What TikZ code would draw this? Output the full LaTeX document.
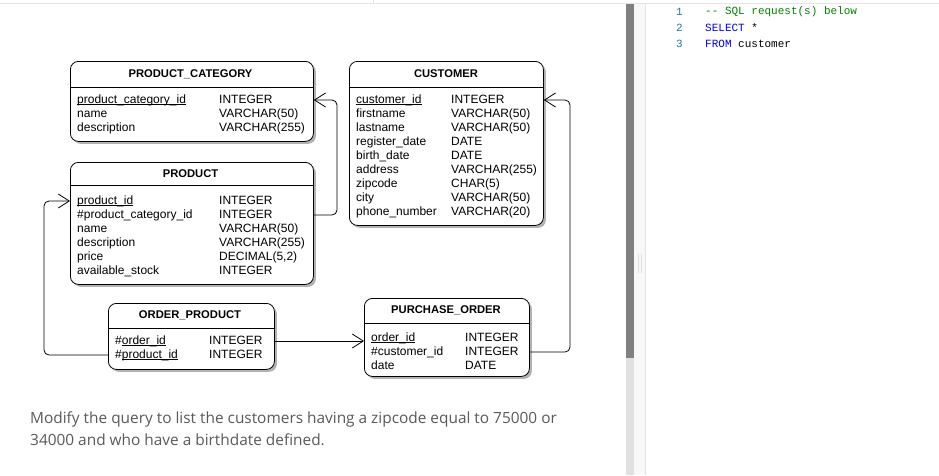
\documentclass[tikz,border=0pt]{standalone}
\usepackage{fontspec}
\setmainfont{Liberation Sans}
\newfontfamily\notefont{Open Sans}
\newfontfamily\codefont{Liberation Mono}
\usetikzlibrary{arrows.meta,shadows}

\definecolor{barDark}{HTML}{808080}
\definecolor{barLight}{HTML}{E0E0E0}
\definecolor{splitFill}{HTML}{F8F8F8}
\definecolor{rule}{HTML}{E4E4E4}
\definecolor{lineNo}{HTML}{237893}
\definecolor{cmt}{HTML}{008000}
\definecolor{kw}{HTML}{0000FF}
\definecolor{noteText}{HTML}{5A5A5A}

% primary key: line under the text, at the baseline
\newcommand\pkey[1]{\setbox0\hbox{#1}\rlap{\rule[-1.2pt]{\wd0}{0.6pt}}\box0}

\begin{document}
\begin{tikzpicture}[x=1pt, y=-1pt,
    tbl/.style={draw, line width=0.8pt, rounded corners=8pt, fill=white, anchor=north west,
      drop shadow={shadow xshift=2.5pt, shadow yshift=-2.5pt, fill=black, opacity=0.3}},
    ttl/.style={font=\fontsize{11.2}{13}\selectfont\bfseries, inner sep=0pt},
    fld/.style={font=\fontsize{12}{14}\selectfont, anchor=west, inner sep=0pt,
      text height=8.6pt, text depth=2.5pt},
    fk/.style={line width=0.8pt, rounded corners=5pt, -{Straight Barb[length=11pt,width=14pt]}},
    code/.style={font=\codefont\fontsize{11}{13}\selectfont, anchor=west, inner sep=0pt},
    note/.style={font=\notefont\fontsize{15.4}{20}\selectfont, text=noteText, anchor=base west, inner sep=0pt}
    ]
    \useasboundingbox[fill=white] (0,0) rectangle (939,475);

    % editor frame
    \draw[rule] (0,3.5) -- (939,3.5);
    \draw[rule] (373,0) -- (373,3.5);
    \fill[barDark] (626,4) rectangle (634,358);
    \fill[barLight] (626,358) rectangle (634,475);
    \fill[splitFill] (634,4) rectangle (645,475);
    \draw[rule] (645.5,4) -- (645.5,475);
    \draw[barLight] (638.5,254) -- (638.5,273) (641.5,254) -- (641.5,273);

    % SQL editor
    \foreach \i in {1,2,3}
      \node[code, anchor=east, text=lineNo] (n-\i) at (683,-4+16*\i) {\i};
    \node[code] (sql-1) at (705,12) {\color{cmt}-\kern0pt- SQL request(s) below};
    \node[code] (sql-2) at (705,28) {{\color{kw}SELECT} *};
    \node[code] (sql-3) at (705,44) {{\color{kw}FROM} customer};

    % PRODUCT_CATEGORY
    \node[tbl, minimum width=243pt, minimum height=80pt] (cat) at (70,61) {};
    \draw[line width=0.8pt] (cat.west |- 0,87) -- (cat.east |- 0,87);
    \node[ttl] (cat-t) at (190.5,74) {PRODUCT\_CATEGORY};
    \foreach \k/\t [count=\i] in {\pkey{product\_category\_id}/INTEGER, name/VARCHAR(50), description/VARCHAR(255)} {
      \node[fld] (cat-\i) at (77,86+14*\i) {\k};
      \node[fld] at (219,86+14*\i) {\t};
    }

    % CUSTOMER
    \node[tbl, minimum width=194pt, minimum height=164pt] (cust) at (349,61) {};
    \draw[line width=0.8pt] (cust.west |- 0,87) -- (cust.east |- 0,87);
    \node[ttl] (cust-t) at (446,74) {CUSTOMER};
    \foreach \k/\t [count=\i] in {\pkey{customer\_id}/INTEGER, firstname/VARCHAR(50), lastname/VARCHAR(50),
        register\_date/DATE, birth\_date/DATE, address/VARCHAR(255), zipcode/CHAR(5), city/VARCHAR(50),
        phone\_number/VARCHAR(20)} {
      \node[fld] (cust-\i) at (356,86+14*\i) {\k};
      \node[fld] at (451,86+14*\i) {\t};
    }

    % PRODUCT
    \node[tbl, minimum width=243pt, minimum height=122pt] (prod) at (70,162) {};
    \draw[line width=0.8pt] (prod.west |- 0,185) -- (prod.east |- 0,185);
    \node[ttl] (prod-t) at (190.5,174) {PRODUCT};
    \foreach \k/\t [count=\i] in {\pkey{product\_id}/INTEGER, \#product\_category\_id/INTEGER, name/VARCHAR(50),
        description/VARCHAR(255), price/{DECIMAL(5,2)}, available\_stock/INTEGER} {
      \node[fld] (prod-\i) at (77,187+14*\i) {\k};
      \node[fld] at (219,187+14*\i) {\t};
    }

    % ORDER_PRODUCT
    \node[tbl, minimum width=166pt, minimum height=66pt] (op) at (108,303) {};
    \draw[line width=0.8pt] (op.west |- 0,328) -- (op.east |- 0,328);
    \node[ttl] (op-t) at (190,315.5) {ORDER\_PRODUCT};
    \foreach \k/\t [count=\i] in {\#\pkey{order\_id}/INTEGER, \#\pkey{product\_id}/INTEGER} {
      \node[fld] (op-\i) at (115,327+14*\i) {\k};
      \node[fld] at (209,327+14*\i) {\t};
    }

    % PURCHASE_ORDER
    \node[tbl, minimum width=165pt, minimum height=78pt] (po) at (364,298) {};
    \draw[line width=0.8pt] (po.west |- 0,323) -- (po.east |- 0,323);
    \node[ttl] (po-t) at (446,310.5) {PURCHASE\_ORDER};
    \foreach \k/\t [count=\i] in {\pkey{order\_id}/INTEGER, \#customer\_id/INTEGER, date/DATE} {
      \node[fld] (po-\i) at (371,324+14*\i) {\k};
      \node[fld] at (465,324+14*\i) {\t};
    }

    % foreign keys
    \coordinate (bend-cat) at (337,0);
    \coordinate (bend-cust) at (570,0);
    \coordinate (bend-prod) at (44,0);
    \draw[fk] (prod.east |- prod-2) -- (bend-cat |- prod-2) |- (cat.east |- cat-1);
    \draw[fk] (po.east |- po-2) -- (bend-cust |- po-2) |- (cust.east |- cust-1);
    \draw[fk] (op.east |- op-1) -- (po.west |- op-1);
    \draw[fk] (op.west |- op-2) -- (bend-prod |- op-2) |- (prod.west |- prod-1);

    % question
    \node[note] (q-1) at (30,423) {Modify the query to list the customers having a zipcode equal to 75000 or};
    \node[note] (q-2) at (30,445) {34000 and who have a birthdate defined.};
  \end{tikzpicture}
\end{document}
